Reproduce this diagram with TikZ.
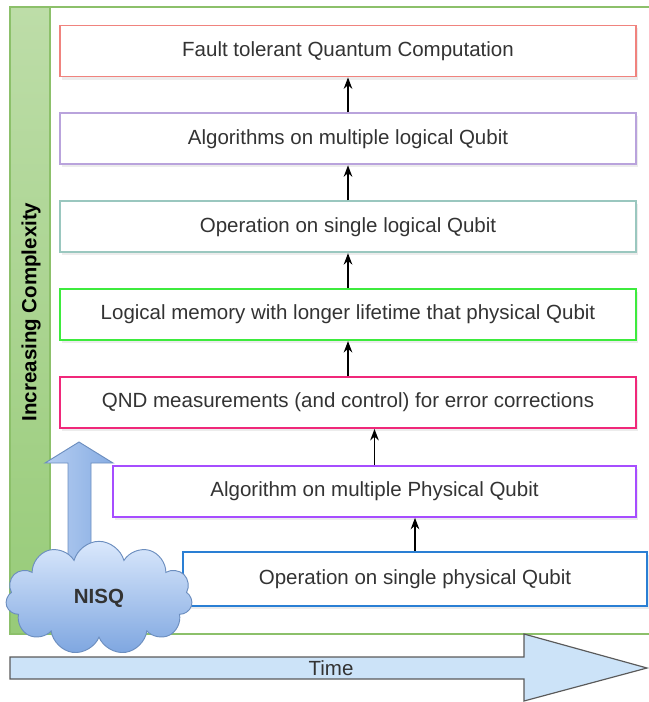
\documentclass[tikz,border=0pt]{standalone}
\usepackage{fontspec}
\setmainfont{Liberation Sans}
\usepackage{xcolor}
\usetikzlibrary{arrows.meta, positioning, shapes.symbols, shadows}

\definecolor{textgrey}{HTML}{333333}
\definecolor{framegreen}{HTML}{8CC06A}
\definecolor{barlight}{HTML}{BDDDA8}
\definecolor{bardark}{HTML}{97CB78}
\definecolor{ftcred}{HTML}{F0837E}
\definecolor{alglilac}{HTML}{B9A3DC}
\definecolor{opteal}{HTML}{9AC7BF}
\definecolor{memgreen}{HTML}{3DEB3D}
\definecolor{qndpink}{HTML}{F0287A}
\definecolor{physpurple}{HTML}{A64DFF}
\definecolor{physblue}{HTML}{2A7FD4}
\definecolor{cloudtop}{HTML}{DAE8FC}
\definecolor{cloudbot}{HTML}{7EA6E0}
\definecolor{cloudedge}{HTML}{6C8EBF}
\definecolor{timeblue}{HTML}{CCE3F8}
\definecolor{timeedge}{HTML}{5A5A5A}

\begin{document}
\begin{tikzpicture}[x=0.03cm, y=-0.03cm, >=Stealth, node distance=1.05cm,
    stage/.style={draw=#1, line width=1.6pt, fill=white, minimum width=17.28cm,
      minimum height=1.53cm, inner sep=0pt, text=textgrey,
      font=\fontsize{17.5}{21}\selectfont,
      drop shadow={opacity=0.15, shadow xshift=0.06cm, shadow yshift=-0.09cm}},
    lvlarrow/.style={->, line width=1.5pt}]

    \useasboundingbox (0,0) rectangle (649,702);

    % frame and complexity bar
    \shade[top color=barlight, bottom color=bardark] (10,7) rectangle (50,634);
    \draw[framegreen, line width=0.9pt] (660,7) -- (10,7) -- (10,634) -- (660,634);
    \draw[framegreen, line width=0.9pt] (50,7) -- (50,634);
    \node[rotate=90, font=\bfseries\fontsize{17.5}{21}\selectfont, text=black] (complexity) at (31,312) {Increasing Complexity};

    % stages
    \node[stage=ftcred] (ftc) at (348,51) {Fault tolerant Quantum Computation};
    \node[stage=alglilac, below=of ftc] (alglog) {Algorithms on multiple logical Qubit};
    \node[stage=opteal, below=of alglog] (oplog) {Operation on single logical Qubit};
    \node[stage=memgreen, below=of oplog] (mem) {Logical memory with longer lifetime that physical Qubit};
    \node[stage=qndpink, below=of mem] (qnd) {QND measurements (and control) for error corrections};
    \node[stage=physpurple, minimum width=15.69cm, below=1.08cm of qnd.south east, anchor=north east] (algphy) {Algorithm on multiple Physical Qubit};
    \node[stage=physblue, minimum width=13.92cm, minimum height=1.62cm, below=0.99cm of algphy.south east, anchor=north east, xshift=0.33cm] (opphy) {Operation on single physical Qubit};

    \draw[lvlarrow] (alglog.north) -- (ftc.south);
    \draw[lvlarrow] (oplog.north) -- (alglog.south);
    \draw[lvlarrow] (mem.north) -- (oplog.south);
    \draw[lvlarrow] (qnd.north) -- (mem.south);
    \draw[lvlarrow] (algphy.north) -- (algphy.north |- qnd.south);
    \draw[lvlarrow] (opphy.north) -- (opphy.north |- algphy.south);

    % NISQ
    \shade[left color=cloudtop!60!cloudbot, right color=cloudbot!90!cloudtop, draw=cloudedge, line width=0.8pt]
      (68,570) -- (68,463) -- (45,463) -- (79,442) -- (113,463) -- (91,463) -- (91,570) -- cycle;
    \node[cloud, cloud puffs=11, aspect=1.6, draw=cloudedge, line width=0.8pt,
      top color=cloudtop, bottom color=cloudbot, minimum width=5.6cm, minimum height=3.4cm,
      font=\bfseries\fontsize{17.5}{21}\selectfont, text=textgrey] (nisq) at (99,598) {NISQ};

    % time
    \filldraw[fill=timeblue, draw=timeedge, line width=1pt]
      (10,657) -- (524,657) -- (524,634) -- (647,668) -- (524,701) -- (524,679) -- (10,679) -- cycle;
    \node[font=\fontsize{17.5}{21}\selectfont, text=textgrey] (time) at (331,668) {Time};
\end{tikzpicture}
\end{document}
